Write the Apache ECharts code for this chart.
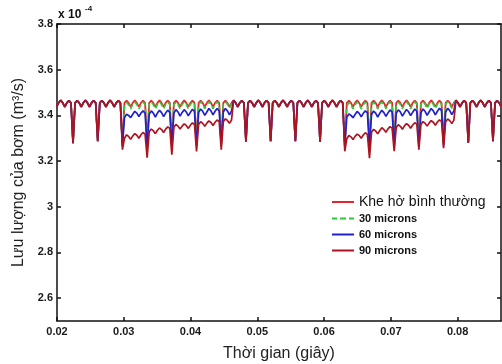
<!DOCTYPE html>
<html>
<head>
<meta charset="utf-8">
<script src="https://cdn.jsdelivr.net/npm/echarts@6/dist/echarts.min.js"></script>
<style>
  html, body { margin: 0; padding: 0; background: #fff; }
  #chart { width: 502px; height: 364px; }
</style>
</head>
<body>
<div id="chart"></div>
<script>
// time grid: first dip just left of the axis, 12 samples per pump period (3 arches)
var tStart = 0.0187;
var tStep = 0.0037 / 12;

var xTicks = [0.02, 0.03, 0.04, 0.05, 0.06, 0.07, 0.08];
var yTicks = [2.6, 2.8, 3, 3.2, 3.4, 3.6, 3.8];
var seriesNames = ['Khe hở bình thường', '30 microns', '60 microns', '90 microns'];

// normal clearance flow (x 1e-4 m3/s), one row per period
var normalFlow = [
  3.290,3.455,3.465,3.455,3.437,3.455,3.466,3.455,3.437,3.455,3.465,3.455,
  3.278,3.455,3.465,3.455,3.437,3.455,3.466,3.455,3.437,3.455,3.465,3.455,
  3.287,3.455,3.465,3.455,3.437,3.455,3.466,3.455,3.437,3.455,3.465,3.455,
  3.280,3.455,3.465,3.455,3.437,3.455,3.466,3.455,3.437,3.455,3.465,3.455,
  3.285,3.455,3.465,3.455,3.437,3.455,3.466,3.455,3.437,3.455,3.465,3.455,
  3.283,3.455,3.465,3.455,3.437,3.455,3.466,3.455,3.437,3.455,3.465,3.455,
  3.285,3.455,3.465,3.455,3.437,3.455,3.466,3.455,3.437,3.455,3.465,3.455,
  3.280,3.455,3.465,3.455,3.437,3.455,3.466,3.455,3.437,3.455,3.465,3.455,
  3.285,3.455,3.465,3.455,3.437,3.455,3.466,3.455,3.437,3.455,3.465,3.455,
  3.287,3.455,3.465,3.455,3.437,3.455,3.466,3.455,3.437,3.455,3.465,3.455,
  3.287,3.455,3.465,3.455,3.437,3.455,3.466,3.455,3.437,3.455,3.465,3.455,
  3.285,3.455,3.465,3.455,3.437,3.455,3.466,3.455,3.437,3.455,3.465,3.455,
  3.280,3.455,3.465,3.455,3.437,3.455,3.466,3.455,3.437,3.455,3.465,3.455,
  3.283,3.455,3.465,3.455,3.437,3.455,3.466,3.455,3.437,3.455,3.465,3.455,
  3.285,3.455,3.465,3.455,3.437,3.455,3.466,3.455,3.437,3.455,3.465,3.455,
  3.280,3.455,3.465,3.455,3.437,3.455,3.466,3.455,3.437,3.455,3.465,3.455,
  3.283,3.455,3.465,3.455,3.437,3.455,3.466,3.455,3.437,3.455,3.465,3.455,
  3.280,3.455,3.465,3.455,3.437,3.455,3.466,3.455,3.437,3.455,3.465,3.455,
  3.287,3.455,3.465,3.455,3.437
];

// fault windows (sample index where they start)
var win1Start = 36;
var win2Start = 144;

var micron30W1 = [
  3.270,3.440,3.456,3.447,3.428,3.447,3.458,3.448,3.428,3.448,3.458,3.448,
  3.272,3.447,3.458,3.448,3.428,3.448,3.459,3.448,3.429,3.448,3.458,3.448,
  3.274,3.447,3.458,3.448,3.429,3.448,3.459,3.449,3.429,3.448,3.459,3.448,
  3.275,3.448,3.459,3.449,3.430,3.448,3.459,3.449,3.430,3.449,3.460,3.449,
  3.276,3.448,3.459,3.449,3.431,3.450,3.466
];
var micron30W2 = [
  3.268,3.441,3.456,3.447,3.428,3.447,3.458,3.448,3.428,3.447,3.458,3.448,
  3.270,3.446,3.457,3.448,3.428,3.448,3.458,3.448,3.429,3.448,3.459,3.448,
  3.273,3.447,3.458,3.448,3.429,3.448,3.459,3.449,3.429,3.448,3.459,3.449,
  3.275,3.448,3.459,3.449,3.430,3.449,3.460,3.449,3.430,3.449,3.460,3.449,
  3.277,3.449,3.460,3.450,3.431,3.450,3.466
];

var micron60W1 = [
  3.265,3.390,3.405,3.400,3.390,3.405,3.418,3.410,3.395,3.410,3.420,3.410,
  3.260,3.405,3.420,3.410,3.393,3.410,3.422,3.412,3.395,3.410,3.423,3.413,
  3.262,3.410,3.425,3.415,3.397,3.413,3.425,3.415,3.398,3.413,3.427,3.417,
  3.265,3.412,3.428,3.418,3.400,3.415,3.430,3.420,3.402,3.418,3.430,3.420,
  3.268,3.415,3.430,3.420,3.402,3.420,3.466
];
var micron60W2 = [
  3.263,3.392,3.406,3.400,3.390,3.404,3.417,3.409,3.394,3.409,3.420,3.411,
  3.258,3.404,3.419,3.410,3.393,3.409,3.422,3.412,3.396,3.411,3.424,3.414,
  3.261,3.409,3.424,3.415,3.397,3.412,3.426,3.416,3.399,3.414,3.428,3.418,
  3.264,3.412,3.428,3.418,3.400,3.416,3.430,3.420,3.402,3.418,3.431,3.421,
  3.268,3.415,3.431,3.421,3.403,3.420,3.466
];

var micron90W1 = [
  3.250,3.300,3.315,3.308,3.295,3.310,3.320,3.313,3.300,3.315,3.325,3.318,
  3.215,3.328,3.340,3.333,3.320,3.335,3.345,3.338,3.325,3.340,3.350,3.343,
  3.228,3.348,3.360,3.353,3.340,3.353,3.363,3.356,3.343,3.357,3.367,3.360,
  3.242,3.360,3.372,3.365,3.352,3.366,3.376,3.369,3.356,3.370,3.380,3.373,
  3.250,3.372,3.385,3.378,3.365,3.380,3.466
];
var micron90W2 = [
  3.243,3.298,3.312,3.306,3.294,3.308,3.318,3.312,3.300,3.314,3.324,3.317,
  3.213,3.326,3.339,3.332,3.319,3.334,3.346,3.338,3.326,3.341,3.351,3.344,
  3.243,3.347,3.359,3.352,3.339,3.354,3.364,3.357,3.344,3.358,3.368,3.361,
  3.250,3.360,3.373,3.366,3.353,3.367,3.377,3.370,3.357,3.371,3.380,3.374,
  3.256,3.372,3.384,3.377,3.364,3.379,3.466
];

var fontFamily = "'Liberation Sans', Arial, sans-serif";

var timeSec = normalFlow.map(function (v, i) { return +(tStart + i * tStep).toFixed(6); });

function mergeWindows(w1, w2) {
  return normalFlow.map(function (v, i) {
    var y = v;
    if (w1 && i >= win1Start && i < win1Start + w1.length) y = w1[i - win1Start];
    if (w2 && i >= win2Start && i < win2Start + w2.length) y = w2[i - win2Start];
    return [timeSec[i], y];
  });
}

var myChart = echarts.init(document.getElementById('chart'), null, { renderer: 'canvas' });

function lineSeries(name, data, color, width, dashed) {
  return {
    name: name,
    type: 'line',
    symbol: 'none',
    data: data,
    animation: false,
    lineStyle: { color: color, width: width, type: dashed ? [5, 3] : 'solid' },
    itemStyle: { color: color }
  };
}

var solidIcon = 'path://M0,0H22V2H0Z';
var dashedIcon = 'path://M0,0H5V2H0Z M8,0H14V2H8Z M17,0H22V2H17Z';

var axisLineStyle = { show: true, lineStyle: { color: '#111', width: 1.5 } };
var tickStyle = { inside: true, length: 4, lineStyle: { color: '#111', width: 1.5 } };
var labelStyle = { color: '#1a1a1a', fontSize: 11, fontWeight: 'bold', fontFamily: fontFamily };
var microText = { fontSize: 11, fontWeight: 'bold', color: '#111', fontFamily: fontFamily, lineHeight: 13 };

var option = {
  backgroundColor: '#fff',
  animation: false,
  grid: { left: 57, top: 24, right: 1, bottom: 43, outerBoundsMode: 'none', containLabel: false },
  graphic: [
    { type: 'text', left: 58, top: 9, style: { text: 'x 10', fontSize: 12, fontWeight: 'bold', fontFamily: fontFamily, fill: '#111' } },
    { type: 'text', left: 85, top: 5, style: { text: '-4', fontSize: 8, fontWeight: 'bold', fontFamily: fontFamily, fill: '#111' } }
  ],
  legend: {
    orient: 'vertical',
    left: 332,
    top: 195,
    padding: 0,
    itemWidth: 22,
    itemHeight: 2,
    itemGap: 3,
    data: [
      { name: seriesNames[0], icon: solidIcon, textStyle: { fontSize: 14, fontWeight: 'normal', color: '#111', fontFamily: fontFamily, lineHeight: 14 } },
      { name: seriesNames[1], icon: dashedIcon, textStyle: microText },
      { name: seriesNames[2], icon: solidIcon, textStyle: microText },
      { name: seriesNames[3], icon: solidIcon, textStyle: microText }
    ]
  },
  xAxis: [
    {
      type: 'value',
      min: 0.02,
      max: 0.0865,
      name: 'Thời gian (giây)',
      nameLocation: 'middle',
      nameGap: 25,
      nameTextStyle: { fontSize: 16, color: '#222', fontFamily: fontFamily },
      axisLine: axisLineStyle,
      axisTick: Object.assign({ customValues: xTicks }, tickStyle),
      axisLabel: Object.assign({ customValues: xTicks, margin: 5 }, labelStyle),
      splitLine: { show: false }
    },
    {
      type: 'value',
      position: 'top',
      min: 0.02,
      max: 0.0865,
      axisLine: axisLineStyle,
      axisTick: Object.assign({ customValues: xTicks }, tickStyle),
      axisLabel: { show: false },
      splitLine: { show: false }
    }
  ],
  yAxis: [
    {
      type: 'value',
      min: 2.5,
      max: 3.8,
      name: 'Lưu lượng của bơm (m³/s)',
      nameLocation: 'middle',
      nameGap: 29,
      nameTextStyle: { fontSize: 16, color: '#222', fontFamily: fontFamily },
      axisLine: axisLineStyle,
      axisTick: Object.assign({ customValues: yTicks }, tickStyle),
      axisLabel: Object.assign({ customValues: yTicks, margin: 4 }, labelStyle),
      splitLine: { show: false }
    },
    {
      type: 'value',
      position: 'right',
      min: 2.5,
      max: 3.8,
      axisLine: axisLineStyle,
      axisTick: Object.assign({ customValues: yTicks }, tickStyle),
      axisLabel: { show: false },
      splitLine: { show: false }
    }
  ],
  series: [
    lineSeries(seriesNames[0], mergeWindows(null, null), '#e8232d', 1.8, false),
    lineSeries(seriesNames[1], mergeWindows(micron30W1, micron30W2), '#33c83a', 1.7, true),
    lineSeries(seriesNames[2], mergeWindows(micron60W1, micron60W2), '#2020cc', 1.7, false),
    lineSeries(seriesNames[3], mergeWindows(micron90W1, micron90W2), '#ad1420', 1.7, false)
  ]
};
myChart.setOption(option);
</script>
</body>
</html>
